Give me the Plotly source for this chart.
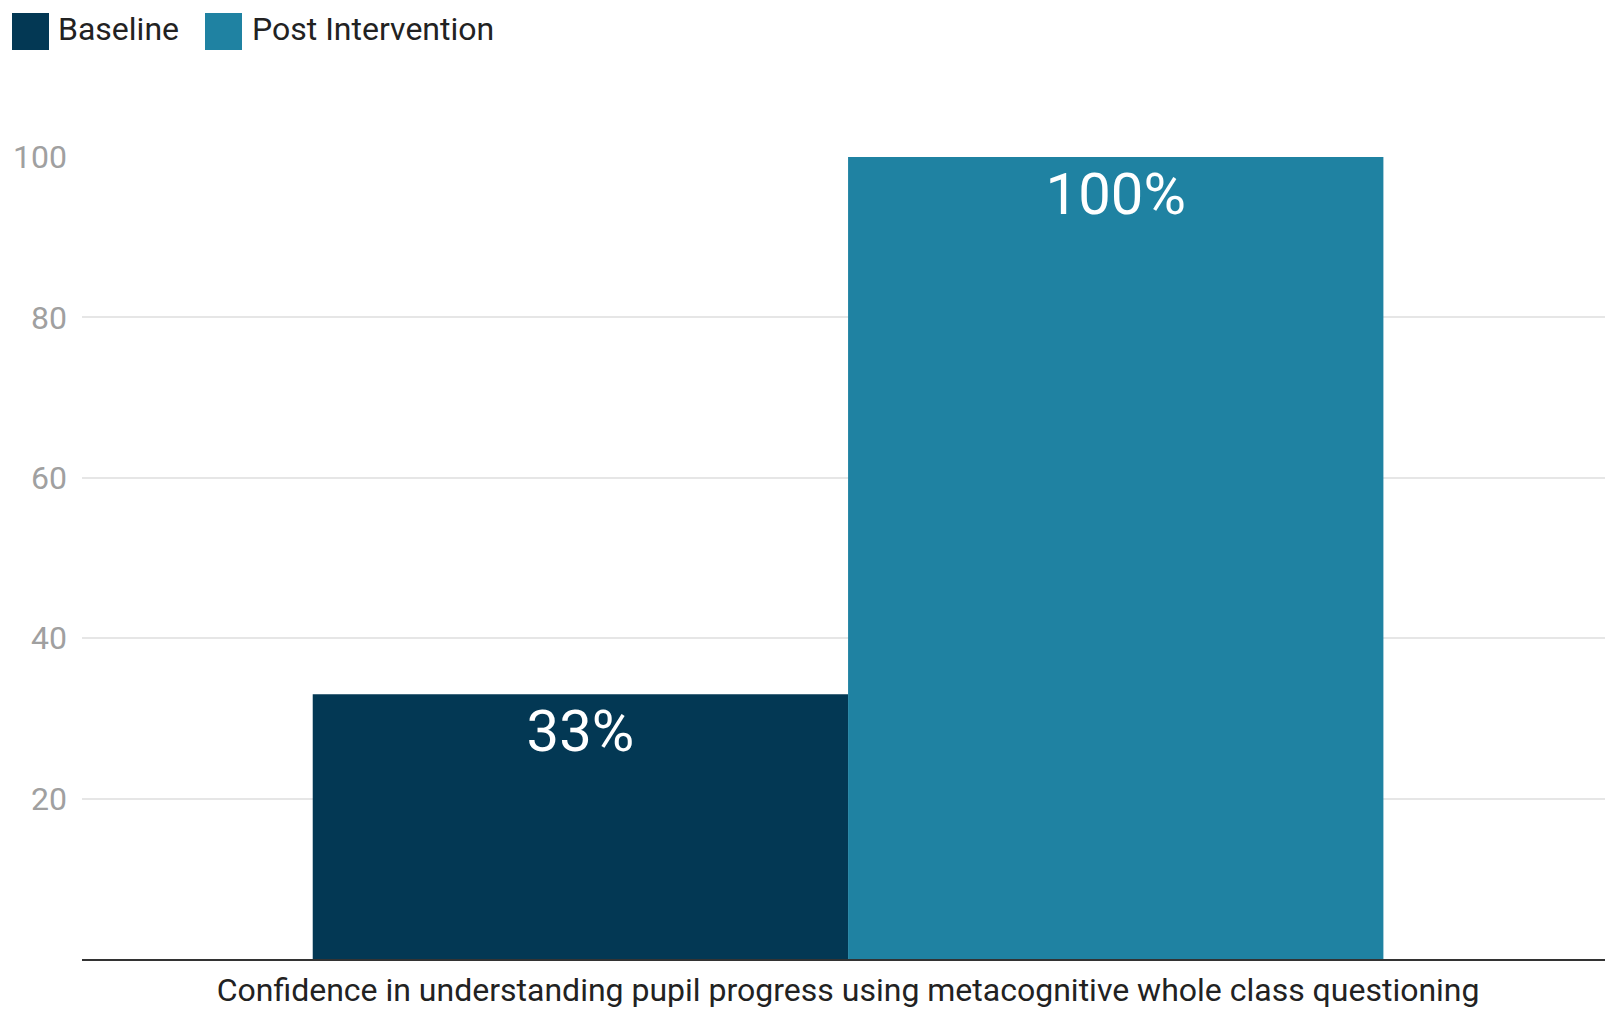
import plotly.graph_objects as go

categories = ["Confidence in understanding pupil progress using metacognitive whole class questioning"]
series_names = ["Baseline", "Post Intervention"]
baseline_values = [33]
post_values = [100]
series_colors = ["#033854", "#1f82a2"]
y_ticks = [20, 40, 60, 80, 100]

FONT = "Roboto, sans-serif"
W, H = 1605, 1011
ML, MR, MT, MB = 82, 0, 157, 52
PW, PH = W - ML - MR, H - MT - MB

fig = go.Figure()
for name, vals, col in zip(series_names, [baseline_values, post_values], series_colors):
    fig.add_trace(go.Bar(
        x=categories, y=vals, name=name,
        marker=dict(color=col, line=dict(width=0)),
        text=[f"{v}%" for v in vals],
        textposition="inside", insidetextanchor="end",
        textfont=dict(family=FONT, size=58, color="white"),
        textangle=0,
        showlegend=False,
    ))

# custom legend (large squares) in pixel positions
def px_x(px):
    return (px - ML) / PW

def px_y(py):
    return (H - MB - py) / PH

legend_items = [(12, 56), (205, 250)]
shapes = []
annotations = []
for (sq_x, tx_x), name, col in zip(legend_items, series_names, series_colors):
    shapes.append(dict(type="rect", xref="paper", yref="paper",
                       x0=px_x(sq_x), x1=px_x(sq_x + 37), y0=px_y(50), y1=px_y(13),
                       fillcolor=col, line=dict(width=0)))
    annotations.append(dict(xref="paper", yref="paper", x=px_x(tx_x), y=px_y(29),
                            xanchor="left", yanchor="middle", showarrow=False,
                            text=name, font=dict(family=FONT, size=32, color="#222222")))

fig.update_layout(
    width=W, height=H,
    margin=dict(l=ML, r=MR, t=MT, b=MB),
    paper_bgcolor="white", plot_bgcolor="white",
    barmode="group", bargap=0.297, bargroupgap=0,
    font=dict(family=FONT),
    uniformtext=dict(minsize=10, mode="show"),
    showlegend=False,
    shapes=shapes, annotations=annotations,
)
fig.update_yaxes(
    range=[0, 100], tickvals=y_ticks, ticktext=[str(v) for v in y_ticks],
    showgrid=True, gridcolor="#e6e6e6", gridwidth=2,
    zeroline=False, showline=False,
    tickfont=dict(family=FONT, size=32, color="#a0a0a0"),
    ticks="", ticklabelstandoff=14,
)
fig.update_xaxes(
    range=[-0.503, 0.497],
    showline=True, linecolor="#333333", linewidth=2,
    tickfont=dict(family=FONT, size=32, color="#222222"),
    ticks="", ticklabelstandoff=2,
)

fig.write_html("out.html")
